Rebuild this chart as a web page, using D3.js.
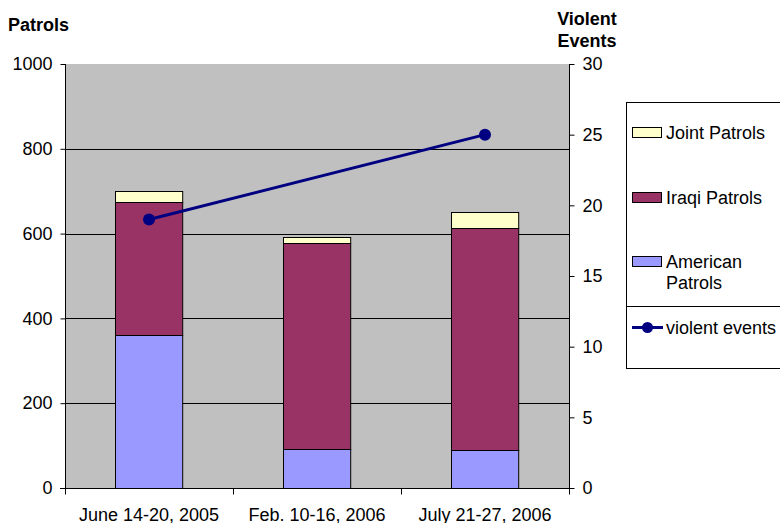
<!DOCTYPE html>
<html>
<head>
<meta charset="utf-8">
<script src="https://cdn.jsdelivr.net/npm/d3@7"></script>
<style>
  body { margin: 0; background: #fff; }
  text { font-family: "Liberation Sans", Arial, sans-serif; }
</style>
</head>
<body>
<svg id="chart" width="780" height="523"></svg>
<script>
const periods = ["June 14-20, 2005", "Feb. 10-16, 2006", "July 21-27, 2006"];
const american = [360, 92, 90];
const iraqi = [315, 485, 524];
const joint = [25, 15, 36];
const violentEvents = [19, null, 25];
const leftTicks = [0, 200, 400, 600, 800, 1000];
const rightTicks = [0, 5, 10, 15, 20, 25, 30];

const seriesColors = ["#9999ff", "#993366", "#ffffcc"];

const svg = d3.select("#chart");
const plot = { left: 65, right: 569, top: 64, bottom: 488 };
const fontSize = 18;

const x = d3.scaleBand().domain(periods).range([plot.left, plot.right]).padding(0);
const y = d3.scaleLinear().domain([0, 1000]).range([plot.bottom, plot.top]);
const y2 = d3.scaleLinear().domain([0, 30]).range([plot.bottom, plot.top]);

const rows = periods.map((p, i) => ({ period: p, american: american[i], iraqi: iraqi[i], joint: joint[i] }));
const stacked = d3.stack().keys(["american", "iraqi", "joint"])(rows);

// plot background
svg.append("rect")
  .attr("x", plot.left)
  .attr("y", plot.top)
  .attr("width", plot.right - plot.left)
  .attr("height", plot.bottom - plot.top)
  .attr("fill", "#c0c0c0");

// gridlines
svg.append("g")
  .selectAll("line")
  .data(leftTicks.filter(d => d > 0 && d < 1000))
  .join("line")
  .attr("x1", plot.left)
  .attr("x2", plot.right)
  .attr("y1", d => Math.round(y(d)) + 0.5)
  .attr("y2", d => Math.round(y(d)) + 0.5)
  .attr("stroke", "#000");

// bars
const barW = x.bandwidth() * 0.4;
svg.append("g")
  .selectAll("g")
  .data(stacked)
  .join("g")
  .attr("fill", (d, i) => seriesColors[i])
  .selectAll("rect")
  .data(d => d)
  .join("rect")
  .attr("x", d => Math.round(x(d.data.period) + (x.bandwidth() - barW) / 2) + 0.5)
  .attr("y", d => Math.round(y(d[1])) + 0.5)
  .attr("width", barW)
  .attr("height", d => Math.round(y(d[0])) - Math.round(y(d[1])))
  .attr("stroke", "#000");

// left and right axes
const leftAxis = svg.append("g")
  .attr("transform", `translate(${plot.left + 0.5},0)`)
  .call(d3.axisLeft(y).tickValues(leftTicks).tickFormat(d3.format("d")).tickSize(5).tickPadding(8));
const rightAxis = svg.append("g")
  .attr("transform", `translate(${plot.right + 0.5},0)`)
  .call(d3.axisRight(y2).tickValues(rightTicks).tickSize(5).tickPadding(8));
[leftAxis, rightAxis].forEach(a => {
  a.select(".domain").attr("stroke", "#000").attr("d", `M0,${plot.top}V${plot.bottom}`);
  a.selectAll(".tick line").attr("stroke", "#000");
  a.selectAll(".tick text")
    .attr("font-size", fontSize)
    .attr("fill", "#000")
    .style("font-family", '"Liberation Sans", Arial, sans-serif');
});

// bottom axis, ticks on category boundaries
const bottom = svg.append("g").attr("transform", `translate(0,${plot.bottom + 0.5})`);
bottom.append("line")
  .attr("x1", plot.left - 5).attr("x2", plot.right + 5)
  .attr("stroke", "#000");
bottom.selectAll(".bt")
  .data(periods.map(p => x(p)).concat([plot.right]))
  .join("line")
  .attr("class", "bt")
  .attr("x1", d => Math.round(d) + 0.5).attr("x2", d => Math.round(d) + 0.5)
  .attr("y1", 0).attr("y2", 6)
  .attr("stroke", "#000");
bottom.selectAll("text")
  .data(periods)
  .join("text")
  .attr("x", d => x(d) + x.bandwidth() / 2)
  .attr("y", 32)
  .attr("text-anchor", "middle")
  .attr("font-size", fontSize)
  .text(d => d);

// violent events line (no value for the middle period)
const pts = periods.map((p, i) => ({ p, v: violentEvents[i] })).filter(d => d.v != null);
const line = d3.line()
  .x(d => x(d.p) + x.bandwidth() / 2)
  .y(d => y2(d.v));
svg.append("path")
  .datum(pts)
  .attr("d", line)
  .attr("fill", "none")
  .attr("stroke", "#000080")
  .attr("stroke-width", 3);
svg.append("g")
  .selectAll("circle")
  .data(pts)
  .join("circle")
  .attr("cx", d => x(d.p) + x.bandwidth() / 2)
  .attr("cy", d => y2(d.v))
  .attr("r", 6)
  .attr("fill", "#000080");

// axis titles
svg.append("text")
  .attr("x", 8).attr("y", 31)
  .attr("font-size", fontSize).attr("font-weight", "bold")
  .text("Patrols");
const vt = svg.append("text")
  .attr("x", 587).attr("y", 25)
  .attr("font-size", fontSize).attr("font-weight", "bold")
  .attr("text-anchor", "middle");
vt.append("tspan").attr("x", 587).text("Violent");
vt.append("tspan").attr("x", 587).attr("dy", 22).text("Events");

// legend
const legend = svg.append("g");
legend.append("rect")
  .attr("x", 626.5).attr("y", 102.5)
  .attr("width", 170).attr("height", 266)
  .attr("fill", "#fff").attr("stroke", "#000");
legend.append("line")
  .attr("x1", 626.5).attr("x2", 780)
  .attr("y1", 306.5).attr("y2", 306.5)
  .attr("stroke", "#000");

const legendItems = [
  { name: ["Joint Patrols"], color: seriesColors[2], y: 133 },
  { name: ["Iraqi Patrols"], color: seriesColors[1], y: 198 },
  { name: ["American", "Patrols"], color: seriesColors[0], y: 262 }
];
legendItems.forEach(it => {
  legend.append("rect")
    .attr("x", 632.5).attr("y", it.y - 5.5)
    .attr("width", 29).attr("height", 10)
    .attr("fill", it.color).attr("stroke", "#000");
  const t = legend.append("text")
    .attr("x", 666).attr("y", it.y + 6)
    .attr("font-size", fontSize);
  it.name.forEach((n, k) => {
    t.append("tspan").attr("x", 666).attr("dy", k === 0 ? 0 : 21).text(n);
  });
});
legend.append("line")
  .attr("x1", 632).attr("x2", 663)
  .attr("y1", 327.5).attr("y2", 327.5)
  .attr("stroke", "#000080").attr("stroke-width", 3);
legend.append("circle")
  .attr("cx", 647.5).attr("cy", 327.5).attr("r", 5.5)
  .attr("fill", "#000080");
legend.append("text")
  .attr("x", 666).attr("y", 334)
  .attr("font-size", fontSize)
  .text("violent events");
</script>
</body>
</html>
